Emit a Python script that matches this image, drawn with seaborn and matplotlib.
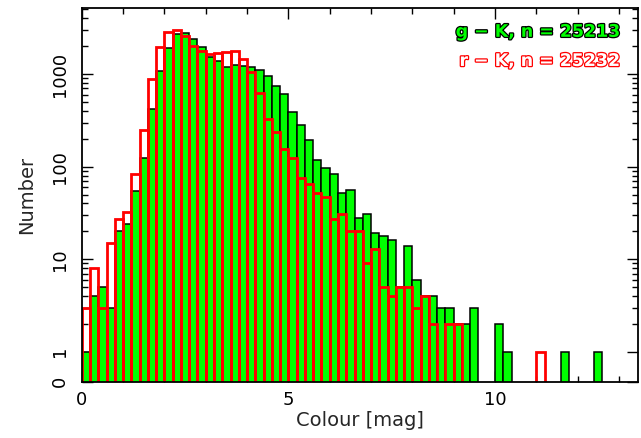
import numpy as np
import pandas as pd
import matplotlib
matplotlib.use("Agg")
import matplotlib.pyplot as plt
import matplotlib.patheffects as pe
import seaborn as sns

# ---- data (counts per 0.2 mag bin, starting at 0) ----
bin_width = 0.2
g_counts = [1, 4, 5, 3, 20, 24, 55, 125, 418, 1091,
            1933, 2700, 2810, 2385, 1983, 1546, 1389, 1205, 1258, 1227,
            1205, 1110, 957, 751, 611, 385, 280, 193, 119, 96,
            84, 52, 56, 28, 31, 19, 18, 16, 5, 14,
            6, 4, 4, 3, 3, 2, 2, 3, 0, 0,
            2, 1, 0, 0, 0, 0, 0, 0, 1, 0,
            0, 0, 1]
r_counts = [3, 8, 3, 15, 27, 32, 83, 249, 888, 1954,
            2838, 3006, 2590, 2018, 1795, 1641, 1708, 1750, 1795, 1460,
            1064, 622, 325, 239, 154, 123, 76, 65, 52, 47,
            27, 31, 20, 20, 9, 13, 5, 4, 5, 5,
            3, 4, 2, 0, 2, 2, 0, 0, 0, 0,
            0, 0, 0, 0, 0, 1]
g_label = "g \u2212 K, n = 25213"
r_label = "r \u2212 K, n = 25232"
x_ticks = [0, 5, 10]
y_ticks = [1, 10, 100, 1000]
y_tick_labels = ["0", "1", "10", "100", "1000"]

sns.set_style("ticks")
plt.rcParams["font.family"] = ["DejaVu Sans"]

nb = max(len(g_counts), len(r_counts))
g_df = pd.DataFrame({"colour": (np.arange(len(g_counts)) + 0.5) * bin_width,
                     "n": g_counts})
r_df = pd.DataFrame({"colour": (np.arange(len(r_counts)) + 0.5) * bin_width,
                     "n": r_counts})
g_df = g_df[g_df.n > 0]
r_df = r_df[r_df.n > 0]

fig = plt.figure(figsize=(6.41, 4.38), dpi=100)
ax = fig.add_axes([0.1275, 0.1285, 0.996 - 0.1275, 0.982 - 0.1285])
ax.set_yscale("log")

brange = (0.0, nb * bin_width)
sns.histplot(data=g_df, x="colour", weights="n", binwidth=bin_width,
             binrange=brange, ax=ax,
             element="bars", fill=True, color="#00ff00", alpha=1,
             edgecolor="black", linewidth=1.1)
sns.histplot(data=r_df, x="colour", weights="n", binwidth=bin_width,
             binrange=brange, ax=ax,
             element="bars", fill=False, color="#ff0000",
             edgecolor="#ff0000", linewidth=2.0)

ybot = 0.474
ax.set_xlim(0, 13.47)
ax.set_ylim(ybot, 5200)

ax.set_xticks(x_ticks)
ax.set_xticks(np.arange(0, 14, 1), minor=True)
ax.set_yticks([ybot] + y_ticks)
ax.set_yticklabels(y_tick_labels, rotation=90, va="center")
minor = [k * 10 ** d for d in range(0, 4) for k in range(2, 10) if k * 10 ** d < 5200]
ax.set_yticks(minor, minor=True)
ax.yaxis.set_minor_formatter(matplotlib.ticker.NullFormatter())

ax.tick_params(which="both", direction="in", top=True, right=True,
               colors="black", width=1.0)
ax.tick_params(which="major", length=8, labelsize=13)
ax.tick_params(axis="x", which="major", pad=7)
ax.tick_params(axis="y", which="major", pad=9)
ax.tick_params(which="minor", length=4.5)
for s in ax.spines.values():
    s.set_linewidth(1.3)
    s.set_color("black")

ax.set_xlabel("Colour [mag]", fontsize=14, labelpad=1)
ax.set_ylabel("Number", fontsize=14, labelpad=11)

ax.text(0.967, 0.936, g_label, transform=ax.transAxes, ha="right", va="center",
        fontsize=12.5, fontweight="bold", color="#00ff00",
        path_effects=[pe.withStroke(linewidth=1.8, foreground="black")])
ax.text(0.967, 0.858, r_label, transform=ax.transAxes, ha="right", va="center",
        fontsize=12.5, fontweight="bold", color="white",
        path_effects=[pe.withStroke(linewidth=1.8, foreground="#ff0000")])

fig.savefig("out.png", dpi=100)
